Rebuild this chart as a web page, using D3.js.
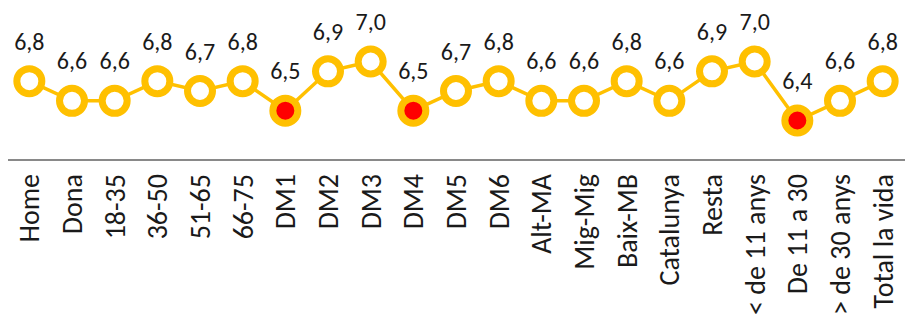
<!DOCTYPE html>
<html>
<head>
<meta charset="utf-8">
<script src="https://cdn.jsdelivr.net/npm/d3@7/dist/d3.min.js"></script>
<style>
  html, body { margin: 0; padding: 0; background: #fff; }
  svg { display: block; }
  text { font-family: Carlito, Calibri, Lato, "Open Sans", sans-serif; }
</style>
</head>
<body>
<svg id="chart" width="905" height="321"></svg>
<script>
const categories = ["Home", "Dona", "18-35", "36-50", "51-65", "66-75", "DM1", "DM2", "DM3", "DM4", "DM5", "DM6", "Alt-MA", "Mig-Mig", "Baix-MB", "Catalunya", "Resta", "< de 11 anys", "De 11 a 30", "> de 30 anys", "Total la vida"];
const values = [6.8, 6.6, 6.6, 6.8, 6.7, 6.8, 6.5, 6.9, 7.0, 6.5, 6.7, 6.8, 6.6, 6.6, 6.8, 6.6, 6.9, 7.0, 6.4, 6.6, 6.8];
const highlighted = ["DM1", "DM4", "De 11 a 30"];

const data = categories.map((c, i) => ({ cat: c, value: values[i], hi: highlighted.includes(c) }));

const svg = d3.select("#chart");

const x = d3.scaleBand().domain(categories).range([8, 904]);
const y = d3.scaleLinear().domain([6.4, 7.0]).range([120.5, 61.5]);
const cx = d => x(d.cat) + x.bandwidth() / 2;

// category axis line
const axisY = 160;
const xAxis = d3.axisBottom(x).tickSize(0).tickPadding(0);
const gAxis = svg.append("g").attr("transform", `translate(0,${axisY})`).call(xAxis);
gAxis.select(".domain").attr("stroke", "#898989").attr("stroke-width", 2).attr("d", `M8,0H905`);
gAxis.selectAll(".tick text")
  .attr("transform", "translate(0,14) rotate(-90)")
  .attr("text-anchor", "end")
  .attr("x", 0)
  .attr("y", 0)
  .attr("dy", "0.36em")
  .attr("fill", "#1a1a1a")
  .style("font-size", "28px")
  .style("font-family", "Carlito, Calibri, Lato, sans-serif");

// line
const line = d3.line().x(cx).y(d => y(d.value));
svg.append("path")
  .datum(data)
  .attr("d", line)
  .attr("fill", "none")
  .attr("stroke", "#FFC000")
  .attr("stroke-width", 3.5);

// markers
svg.selectAll("circle.m")
  .data(data)
  .enter().append("circle")
  .attr("class", "m")
  .attr("cx", cx)
  .attr("cy", d => y(d.value))
  .attr("r", 12.5)
  .attr("fill", d => d.hi ? "#FF0000" : "#FFFFFF")
  .attr("stroke", "#FFC000")
  .attr("stroke-width", 7);

// data labels
const fmt = v => v.toFixed(1).replace(".", ",");
svg.selectAll("text.lbl")
  .data(data)
  .enter().append("text")
  .attr("class", "lbl")
  .attr("x", cx)
  .attr("y", d => y(d.value) - 31.5)
  .attr("text-anchor", "middle")
  .attr("fill", "#1a1a1a")
  .style("font-size", "24px")
  .text(d => fmt(d.value));
</script>
</body>
</html>
